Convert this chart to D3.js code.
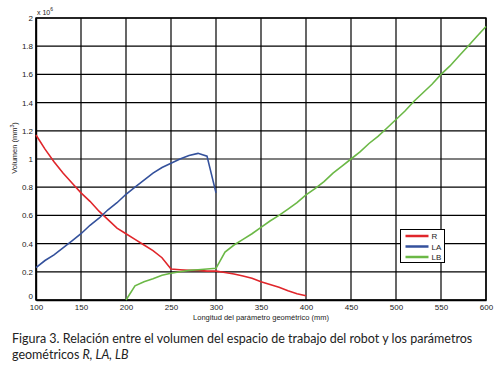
<!DOCTYPE html>
<html>
<head>
<meta charset="utf-8">
<script src="https://cdn.jsdelivr.net/npm/d3@7"></script>
<style>
  body { margin: 0; background: #fff; }
  text { font-family: "Liberation Sans", Arial, sans-serif; }
</style>
</head>
<body>
<div id="chartDiv"></div>
<script>
// data (values in units of 10^6 mm^3)
var xR = [100,110,120,130,140,150,160,170,180,190,200,210,220,230,240,250,260,270,280,290,300,310,320,330,340,350,360,370,380,390,400];
var yR = [1.17,1.07,0.98,0.90,0.83,0.76,0.70,0.63,0.57,0.51,0.47,0.43,0.39,0.35,0.30,0.22,0.215,0.21,0.21,0.205,0.205,0.195,0.185,0.17,0.155,0.13,0.11,0.09,0.065,0.045,0.03];

var xLA = [100,110,120,130,140,150,160,170,180,190,200,210,220,230,240,250,260,270,280,290,300];
var yLA = [0.23,0.28,0.32,0.37,0.42,0.47,0.53,0.58,0.64,0.69,0.75,0.80,0.85,0.90,0.94,0.97,1.0,1.025,1.04,1.02,0.76];

var xLB = [200,210,220,230,240,250,260,270,280,290,300,310,320,330,340,350,360,370,380,390,400,410,420,430,440,450,460,470,480,490,500,510,520,530,540,550,560,570,580,590,600];
var yLB = [0,0.10,0.13,0.15,0.175,0.19,0.20,0.21,0.215,0.22,0.225,0.34,0.39,0.43,0.47,0.515,0.56,0.60,0.645,0.69,0.745,0.79,0.84,0.90,0.95,1.0,1.05,1.11,1.16,1.22,1.28,1.34,1.41,1.47,1.53,1.60,1.66,1.73,1.80,1.87,1.94];

var seriesNames = ["R", "LA", "LB"];
var seriesColors = ["#e0262b", "#34519c", "#6bb846"];
var xTicks = [100,150,200,250,300,350,400,450,500,550,600];
var yTicks = [0,0.2,0.4,0.6,0.8,1,1.2,1.4,1.6,1.8,2];

var margin = {top: 18, right: 12, bottom: 70, left: 36},
    width = 498 - margin.left - margin.right,
    height = 370 - margin.top - margin.bottom;

var svg = d3.select("#chartDiv")
  .append("svg")
    .attr("width", 498)
    .attr("height", 370);

var g = svg.append("g")
    .attr("transform", "translate(" + margin.left + "," + margin.top + ")");

var xScale = d3.scaleLinear().domain([100, 600]).range([0, width]);
var yScale = d3.scaleLinear().domain([0, 2]).range([height, 0]);

// grid
g.append("g")
  .selectAll("line")
  .data(xTicks)
  .enter().append("line")
    .attr("x1", d => xScale(d)).attr("x2", d => xScale(d))
    .attr("y1", 0).attr("y2", height)
    .attr("stroke", "#000").attr("stroke-width", 1.2);
g.append("g")
  .selectAll("line")
  .data(yTicks)
  .enter().append("line")
    .attr("x1", 0).attr("x2", width)
    .attr("y1", d => yScale(d)).attr("y2", d => yScale(d))
    .attr("stroke", "#000").attr("stroke-width", 1.2);

// axes
var xAxis = g.append("g")
  .attr("transform", "translate(0," + height + ")")
  .call(d3.axisBottom(xScale).tickValues(xTicks).tickSize(0).tickPadding(4));
var yAxis = g.append("g")
  .call(d3.axisLeft(yScale).tickValues(yTicks).tickFormat(d => String(d)).tickSize(0).tickPadding(3));
[xAxis, yAxis].forEach(a => {
  a.select(".domain").attr("stroke", "#000").attr("stroke-width", 1.4);
  a.selectAll("text").attr("font-size", 8).attr("fill", "#222")
    .attr("font-family", "'Liberation Sans', Arial, sans-serif");
});
// the "0" sits just above the "100" like in the original
yAxis.selectAll(".tick").filter(d => d === 0).select("text").attr("dy", "-0.2em");

g.append("rect")
  .attr("width", width).attr("height", height)
  .attr("fill", "none").attr("stroke", "#000").attr("stroke-width", 1.4);

// lines
var line = d3.line().x(d => xScale(d[0])).y(d => yScale(d[1]));
var seriesData = [d3.zip(xR, yR), d3.zip(xLA, yLA), d3.zip(xLB, yLB)];
g.selectAll(".series")
  .data(seriesData)
  .enter().append("path")
    .attr("class", "series")
    .attr("d", line)
    .attr("fill", "none")
    .attr("stroke", (d, i) => seriesColors[i])
    .attr("stroke-width", 1.6);

// legend
var legend = g.append("g")
  .attr("transform", "translate(" + (xScale(505) ) + "," + yScale(0.5) + ")");
legend.append("rect")
  .attr("width", 44).attr("height", 33)
  .attr("fill", "#fff").attr("stroke", "#000").attr("stroke-width", 1);
seriesNames.forEach((n, i) => {
  legend.append("line")
    .attr("x1", 5).attr("x2", 28)
    .attr("y1", 6.5 + i * 10.5).attr("y2", 6.5 + i * 10.5)
    .attr("stroke", seriesColors[i]).attr("stroke-width", 2.5);
  legend.append("text")
    .attr("x", 31).attr("y", 9.5 + i * 10.5)
    .attr("font-size", 8).attr("fill", "#222")
    .text(n);
});

// scale factor
var sf = svg.append("text")
  .attr("x", margin.left + 1).attr("y", margin.top - 3)
  .attr("font-size", 7).attr("fill", "#222")
  .text("x 10");
sf.append("tspan").attr("dy", -4).attr("font-size", 5).text("6");

// axis titles
svg.append("text")
  .attr("x", margin.left + width / 2).attr("y", 320)
  .attr("text-anchor", "middle").attr("font-size", 7.5).attr("fill", "#222")
  .text("Longitud del parámetro geométrico (mm)");
var yl = svg.append("text")
  .attr("transform", "translate(17,148) rotate(-90)")
  .attr("text-anchor", "middle").attr("font-size", 7.5).attr("fill", "#222")
  .text("Volumen (mm");
yl.append("tspan").attr("dy", -3).attr("font-size", 5).text("3");
yl.append("tspan").attr("dy", 3).text(")");

// caption
var cap = svg.append("g").attr("font-size", 12.5).attr("fill", "#222");
cap.append("text").attr("x", 12).attr("y", 343)
  .style("font-family", "Lato, 'Open Sans', sans-serif")
  .text("Figura 3. Relación entre el volumen del espacio de trabajo del robot y los parámetros");
var cap2 = cap.append("text").attr("x", 12).attr("y", 359)
  .style("font-family", "Lato, 'Open Sans', sans-serif")
  .text("geométricos ");
cap2.append("tspan").attr("font-style", "italic").text("R, LA, LB");
</script>
</body>
</html>
